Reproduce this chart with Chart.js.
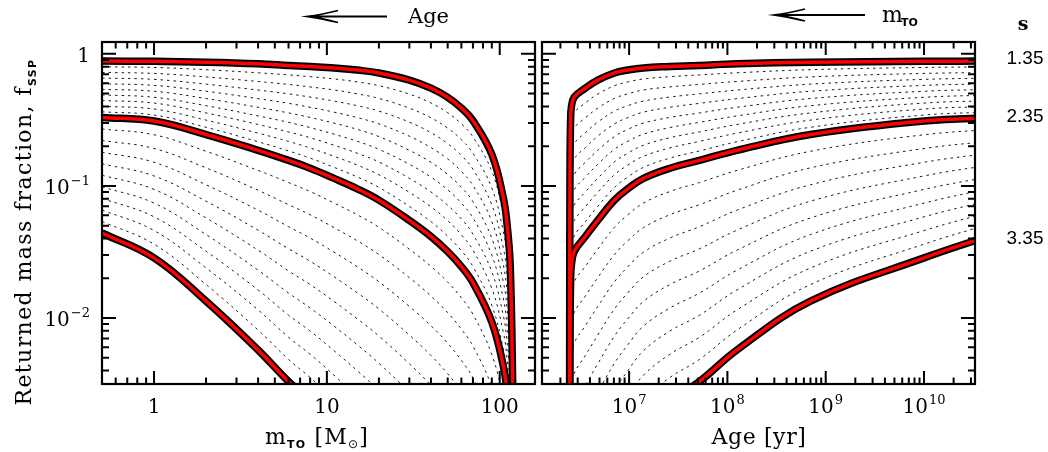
<!DOCTYPE html>
<html>
<head>
<meta charset="utf-8">
<script src="https://cdn.jsdelivr.net/npm/chart.js@4.4.0/dist/chart.umd.min.js"></script>
<style>
  body { margin: 0; background: #fff; overflow: hidden; }
  #wrap { position: relative; width: 1048px; height: 452px; background: #fff; }
  canvas { position: absolute; top: 0; }
</style>
</head>
<body>
<div id="wrap">
  <canvas id="left" width="540" height="452" style="left:0px"></canvas>
  <canvas id="right" width="508" height="452" style="left:540px"></canvas>
</div>
<script>
// turn-off mass grid and the matching turn-off age
var massTO = [0.5, 1, 2, 4, 6, 8, 11, 15, 20, 30, 40, 50, 60, 70, 90, 105, 110, 115, 119.5];
var ageTO = [5.7e10, 1.0e10, 7.0e8, 1.25e8, 5.2e7, 2.6e7, 1.4e7, 9.7e6, 7.1e6, 4.8e6, 3.59e6,
             2.76e6, 2.58e6, 2.54e6, 2.51e6, 2.50e6, 2.495e6, 2.49e6, 2.48e6];

// IMF slopes s, one curve each
var slopes = [1.35, 1.45, 1.55, 1.65, 1.75, 1.85, 1.95, 2.05, 2.15, 2.25, 2.35,
              2.45, 2.55, 2.65, 2.75, 2.85, 2.95, 3.05, 3.15, 3.25, 3.35];
var highlighted = [1.35, 2.35, 3.35];

// returned mass fraction f_SSP at each massTO
var f135 = [0.883, 0.878, 0.865, 0.842, 0.818, 0.802, 0.783, 0.754, 0.717, 0.633, 0.550, 0.469, 0.389, 0.312, 0.173, 0.081, 0.0527, 0.0252, 0.0022];
var f145 = [0.798, 0.789, 0.759, 0.719, 0.693, 0.672, 0.646, 0.613, 0.574, 0.496, 0.425, 0.358, 0.295, 0.235, 0.129, 0.0604, 0.0393, 0.0188, 0.00166];
var f155 = [0.723, 0.711, 0.669, 0.618, 0.587, 0.562, 0.533, 0.498, 0.460, 0.388, 0.328, 0.274, 0.224, 0.177, 0.0964, 0.045, 0.0293, 0.0141, 0.00126];
var f165 = [0.656, 0.641, 0.590, 0.532, 0.498, 0.471, 0.439, 0.405, 0.3685, 0.304, 0.253, 0.209, 0.170, 0.1337, 0.072, 0.0336, 0.0219, 0.0105, 0.00095];
var f175 = [0.594, 0.577, 0.521, 0.458, 0.422, 0.394, 0.362, 0.329, 0.295, 0.238, 0.195, 0.160, 0.1287, 0.1008, 0.0537, 0.025, 0.0163, 0.00786, 0.00072];
var f185 = [0.539, 0.521, 0.459, 0.394, 0.357, 0.330, 0.299, 0.268, 0.2365, 0.186, 0.151, 0.122, 0.0976, 0.076, 0.0401, 0.01866, 0.01215, 0.00587, 0.00054];
var f195 = [0.489, 0.469, 0.405, 0.339, 0.303, 0.2766, 0.2465, 0.2176, 0.1894, 0.1458, 0.1165, 0.0933, 0.074, 0.0573, 0.0299, 0.0139, 0.00906, 0.00439, 0.00041];
var f205 = [0.443, 0.424, 0.357, 0.292, 0.2564, 0.2316, 0.2033, 0.1768, 0.1518, 0.1142, 0.090, 0.0713, 0.0562, 0.0432, 0.02235, 0.01037, 0.00676, 0.00328, 0.00031];
var f215 = [0.401, 0.382, 0.315, 0.251, 0.2173, 0.1939, 0.1676, 0.1437, 0.1215, 0.0894, 0.0695, 0.0545, 0.0426, 0.0326, 0.0167, 0.00774, 0.00504, 0.00245, 0.000235];
var f225 = [0.364, 0.344, 0.278, 0.216, 0.1841, 0.1624, 0.1382, 0.1169, 0.0974, 0.070, 0.0536, 0.0416, 0.0323, 0.0245, 0.01246, 0.00577, 0.00376, 0.00183, 0.000177];
var f235 = [0.33, 0.31, 0.245, 0.186, 0.156, 0.136, 0.114, 0.095, 0.078, 0.0548, 0.0414, 0.0318, 0.0245, 0.0185, 0.0093, 0.0043, 0.0028, 0.00137, 0.000134];
var f245 = [0.270, 0.244, 0.183, 0.131, 0.106, 0.0907, 0.0742, 0.0604, 0.0486, 0.0332, 0.0246, 0.0187, 0.0142, 0.01065, 0.00528, 0.00242, 0.00156, 0.000766, 0.0000749];
var f255 = [0.221, 0.192, 0.137, 0.0927, 0.0721, 0.0605, 0.0483, 0.0384, 0.0302, 0.0202, 0.01466, 0.01096, 0.00823, 0.00612, 0.003, 0.00137, 0.00087, 0.000428, 0.0000419];
var f265 = [0.180, 0.151, 0.102, 0.0655, 0.0491, 0.0403, 0.0315, 0.0244, 0.0188, 0.01223, 0.00873, 0.00644, 0.00477, 0.00352, 0.0017, 0.000769, 0.000485, 0.00024, 0.0000234];
var f275 = [0.147, 0.119, 0.0766, 0.0462, 0.0334, 0.0269, 0.0205, 0.0155, 0.0117, 0.00742, 0.0052, 0.00378, 0.00277, 0.00203, 0.000968, 0.000434, 0.00027, 0.000134, 0.0000131];
var f285 = [0.1205, 0.0941, 0.0572, 0.0326, 0.0227, 0.0179, 0.01334, 0.00984, 0.00729, 0.0045, 0.00309, 0.00222, 0.0016, 0.00117, 0.00055, 0.000244, 0.000151, 0.0000749, 0.0000073];
var f295 = [0.0985, 0.0741, 0.0428, 0.023, 0.01543, 0.0119, 0.00868, 0.00626, 0.00454, 0.00273, 0.00184, 0.0013, 0.00093, 0.00067, 0.000312, 0.000138, 0.0000839, 0.0000419, 0.0000041];
var f305 = [0.0805, 0.0583, 0.032, 0.0163, 0.01049, 0.00796, 0.00565, 0.00398, 0.00283, 0.00166, 0.0011, 0.00077, 0.00054, 0.000386, 0.000177, 0.0000777, 0.0000468, 0.0000234, 0.0000023];
var f315 = [0.0658, 0.0459, 0.0239, 0.0115, 0.00714, 0.00531, 0.00368, 0.00253, 0.00176, 0.001, 0.00065, 0.00045, 0.00031, 0.000222, 0.000101, 0.0000438, 0.0000261, 0.0000131, 0.0000013];
var f325 = [0.0538, 0.0362, 0.0179, 0.0081, 0.00485, 0.00354, 0.0024, 0.00161, 0.0011, 0.00061, 0.000388, 0.000264, 0.000181, 0.000128, 0.0000572, 0.0000247, 0.0000145, 0.0000073, 0.0000007];
var f335 = [0.044, 0.0285, 0.0134, 0.00572, 0.0033, 0.00236, 0.00156, 0.00102, 0.000682, 0.00037, 0.000231, 0.000155, 0.000105, 0.0000735, 0.0000325, 0.0000139, 0.0000081, 0.0000041, 0.0000004];
var fCurves = [f135, f145, f155, f165, f175, f185, f195, f205, f215, f225, f235,
               f245, f255, f265, f275, f285, f295, f305, f315, f325, f335];

// axis ticks
var massTicks = [1, 10, 100];
var massTickLabels = ['1', '10', '100'];
var ageTicks = [1e7, 1e8, 1e9, 1e10];
var ageTickLabels = ['10^7', '10^8', '10^9', '10^10'];
var fTicks = [1, 0.1, 0.01];
var fTickLabels = ['1', '10^\u22121', '10^\u22122'];

var F_MIN = 0.00316, F_MAX = 1.23;
var SERIF = '"DejaVu Serif", serif';

function minorTicks(lo, hi) {
    var out = [];
    for (var p = Math.floor(Math.log10(lo)); p <= Math.ceil(Math.log10(hi)); p++) {
        for (var d = 2; d <= 9; d++) {
            var v = d * Math.pow(10, p);
            if (v > lo * 1.001 && v < hi * 1.001) out.push(v);
        }
    }
    return out;
}
var fMinor = minorTicks(F_MIN, F_MAX);

// number with optional exponent, e.g. '10^7'
function drawPow(ctx, label, x, y, align) {
    var parts = label.split('^');
    ctx.font = '20px ' + SERIF;
    var wb = ctx.measureText(parts[0]).width, we = 0;
    if (parts[1]) { ctx.font = '13px ' + SERIF; we = ctx.measureText(parts[1]).width + 1; }
    var x0 = align === 'right' ? x - wb - we : x - (wb + we) / 2;
    ctx.textAlign = 'left';
    ctx.textBaseline = 'alphabetic';
    ctx.font = '20px ' + SERIF;
    ctx.fillText(parts[0], x0, y);
    if (parts[1]) {
        ctx.font = '13px ' + SERIF;
        ctx.fillText(parts[1], x0 + wb + 1, y - 9);
    }
}

// text made of runs, sub runs set lower and smaller
function drawRuns(ctx, runs, x, y, spacing) {
    var w = 0;
    ctx.letterSpacing = (spacing || 0) + 'px';
    runs.forEach(function (r) { ctx.font = r.font; r.w = ctx.measureText(r.t).width; w += r.w; });
    var cx = x - w / 2;
    ctx.textAlign = 'left';
    ctx.textBaseline = 'alphabetic';
    runs.forEach(function (r) {
        ctx.font = r.font;
        ctx.fillText(r.t, cx, y + (r.dy || 0));
        cx += r.w;
    });
    ctx.letterSpacing = '0px';
}

function arrow(ctx, tip, tail, y) {
    ctx.save();
    ctx.strokeStyle = '#000';
    ctx.lineWidth = 1.8;
    ctx.beginPath();
    ctx.moveTo(tail, y);
    ctx.lineTo(tip, y);
    ctx.moveTo(tip + 30, y - 6);
    ctx.quadraticCurveTo(tip + 12, y - 1.5, tip, y);
    ctx.quadraticCurveTo(tip + 12, y + 1.5, tip + 30, y + 6);
    ctx.stroke();
    ctx.restore();
}

function framePlugin(xMajor, xLabels, xMinor, withYLabels) {
    return {
        id: 'frame',
        afterDraw: function (chart) {
            var ctx = chart.ctx, a = chart.chartArea;
            var sx = chart.scales.x, sy = chart.scales.y;
            ctx.save();
            ctx.strokeStyle = '#000';
            ctx.lineWidth = 2;
            ctx.beginPath();
            function xt(v, len) {
                var p = sx.getPixelForValue(v);
                ctx.moveTo(p, a.bottom); ctx.lineTo(p, a.bottom - len);
                ctx.moveTo(p, a.top); ctx.lineTo(p, a.top + len);
            }
            function yt(v, len) {
                var p = sy.getPixelForValue(v);
                ctx.moveTo(a.left, p); ctx.lineTo(a.left + len, p);
                ctx.moveTo(a.right, p); ctx.lineTo(a.right - len, p);
            }
            xMajor.forEach(function (v) { xt(v, 13); });
            xMinor.forEach(function (v) { xt(v, 6.5); });
            fTicks.forEach(function (v) { yt(v, 14); });
            fMinor.forEach(function (v) { yt(v, 7); });
            ctx.stroke();
            ctx.lineWidth = 2.2;
            ctx.strokeRect(a.left, a.top, a.right - a.left, a.bottom - a.top);

            ctx.fillStyle = '#000';
            xMajor.forEach(function (v, i) {
                drawPow(ctx, xLabels[i], sx.getPixelForValue(v), a.bottom + 29, 'center');
            });
            if (withYLabels) {
                fTicks.forEach(function (v, i) {
                    drawPow(ctx, fTickLabels[i], a.left - 12, sy.getPixelForValue(v) + 8, 'right');
                });
            }
            ctx.restore();
        }
    };
}

var leftDecor = {
    id: 'leftDecor',
    afterDraw: function (chart) {
        var ctx = chart.ctx;
        ctx.save();
        ctx.fillStyle = '#000';
        arrow(ctx, 308, 387, 16.5);
        ctx.font = '21px ' + SERIF;
        ctx.textAlign = 'left';
        ctx.textBaseline = 'alphabetic';
        ctx.fillText('Age', 408, 23);

        drawRuns(ctx, [
            { t: 'm', font: '22px ' + SERIF },
            { t: 'TO', font: 'bold 11px "DejaVu Sans"', dy: 4 },
            { t: ' [M', font: '22px ' + SERIF },
            { t: '\u2299', font: '12px "DejaVu Sans"', dy: 4 },
            { t: ']', font: '22px ' + SERIF }
        ], 317, 444, 1.2);

        ctx.translate(24, 232);
        ctx.rotate(-Math.PI / 2);
        drawRuns(ctx, [
            { t: 'Returned mass fraction, f', font: '22px ' + SERIF },
            { t: 'SSP', font: 'bold 11px "DejaVu Sans"', dy: 5 }
        ], 0, 7, 1.4);
        ctx.restore();
    }
};

var rightDecor = {
    id: 'rightDecor',
    afterDraw: function (chart) {
        var ctx = chart.ctx, sx = chart.scales.x, sy = chart.scales.y;
        ctx.save();
        ctx.fillStyle = '#000';
        arrow(ctx, 235, 325, 15);
        ctx.textAlign = 'left';
        ctx.textBaseline = 'alphabetic';
        ctx.font = '22px ' + SERIF;
        ctx.fillText('m', 342, 22);
        ctx.font = 'bold 11px "DejaVu Sans"';
        ctx.fillText('TO', 361, 26);
        ctx.font = 'bold 19px ' + SERIF;
        ctx.textAlign = 'center';
        ctx.fillText('s', 483, 30);

        drawRuns(ctx, [{ t: 'Age [yr]', font: '22px ' + SERIF }], 219, 444, 0.6);

        // slope labels at the right end of the highlighted curves
        var xEnd = sx.max;
        ctx.font = '19px "Liberation Sans", Arial, sans-serif';
        ctx.textAlign = 'center';
        ctx.textBaseline = 'middle';
        highlighted.forEach(function (s) {
            var ys = fCurves[slopes.indexOf(s)];
            var yEnd = ys[0];
            for (var i = 0; i < ageTO.length - 1; i++) {
                if (ageTO[i] >= xEnd && ageTO[i + 1] <= xEnd) {
                    var t = Math.log(xEnd / ageTO[i + 1]) / Math.log(ageTO[i] / ageTO[i + 1]);
                    yEnd = Math.exp(Math.log(ys[i + 1]) + t * Math.log(ys[i] / ys[i + 1]));
                }
            }
            ctx.fillText(s.toFixed(2), 485, sy.getPixelForValue(yEnd) - 2);
        });
        ctx.restore();
    }
};

function buildDatasets(xs, reverse) {
    var sets = [];
    fCurves.forEach(function (ys, k) {
        var pts = xs.map(function (x, i) { return { x: x, y: ys[i] }; });
        if (reverse) pts.reverse();
        if (highlighted.indexOf(slopes[k]) >= 0) {
            sets.push({ data: pts.slice(), borderColor: '#000', borderWidth: 7.5, order: 1 });
            sets.push({ data: pts.slice(), borderColor: '#ff0000', borderWidth: 3.5, order: 0 });
        } else {
            sets.push({ data: pts.slice(), borderColor: '#1a1a1a', borderWidth: 1, borderDash: [2.5, 4], order: 2 });
        }
    });
    return sets;
}

function makeChart(id, datasets, xMin, xMax, padding, plugins) {
    return new Chart(document.getElementById(id).getContext('2d'), {
        type: 'line',
        data: { datasets: datasets },
        options: {
            responsive: false,
            animation: false,
            devicePixelRatio: 1,
            events: [],
            layout: { padding: padding },
            elements: {
                point: { radius: 0 },
                line: { tension: 0.4, capBezierPoints: false, fill: false }
            },
            datasets: { line: { clip: 0 } },
            plugins: { legend: { display: false }, tooltip: { enabled: false } },
            scales: {
                x: { type: 'logarithmic', min: xMin, max: xMax, display: false },
                y: { type: 'logarithmic', min: F_MIN, max: F_MAX, display: false }
            }
        },
        plugins: plugins
    });
}

makeChart('left', buildDatasets(massTO, false), 0.5, 160,
    { left: 102, right: 5, top: 42, bottom: 68 },
    [framePlugin(massTicks, massTickLabels, minorTicks(0.5, 160), true), leftDecor]);

makeChart('right', buildDatasets(ageTO, true), 1.3e6, 3.3e10,
    { left: 2, right: 73, top: 42, bottom: 68 },
    [framePlugin(ageTicks, ageTickLabels, minorTicks(1.3e6, 3.3e10), false), rightDecor]);
</script>
</body>
</html>
